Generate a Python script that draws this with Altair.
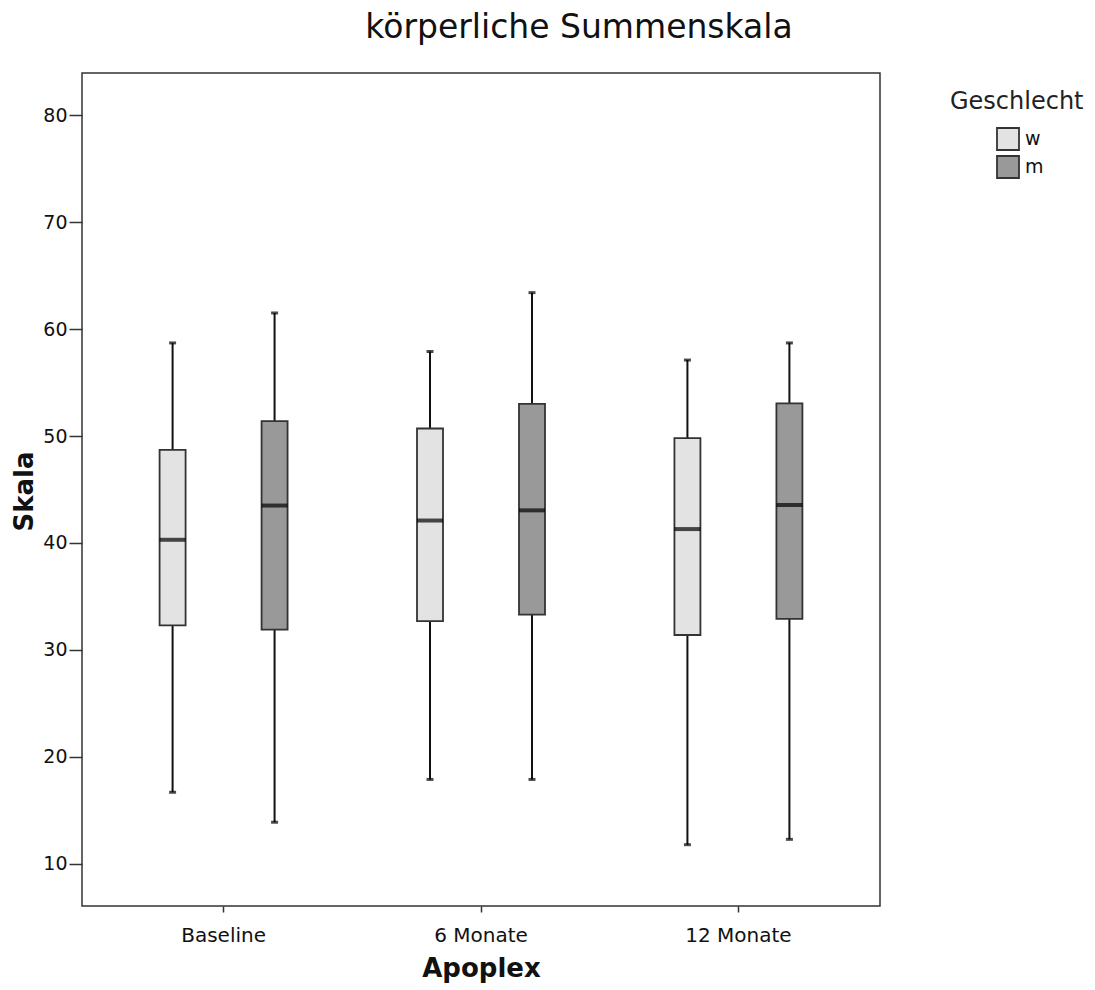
import altair as alt
import pandas as pd

categories = ["Baseline", "6 Monate", "12 Monate"]
sexes = ["w", "m"]

w_min = [16.7, 17.9, 11.8]
w_q1 = [32.3, 32.7, 31.4]
w_med = [40.3, 42.1, 41.3]
w_q3 = [48.7, 50.7, 49.8]
w_max = [58.7, 57.9, 57.1]

m_min = [13.9, 17.9, 12.3]
m_q1 = [31.9, 33.3, 32.9]
m_med = [43.5, 43.05, 43.55]
m_q3 = [51.4, 53.0, 53.05]
m_max = [61.5, 63.4, 58.7]

rows = []
for i, c in enumerate(categories):
    rows.append(dict(Apoplex=c, sex="w", lo=w_min[i], q1=w_q1[i], med=w_med[i], q3=w_q3[i], hi=w_max[i]))
    rows.append(dict(Apoplex=c, sex="m", lo=m_min[i], q1=m_q1[i], med=m_med[i], q3=m_q3[i], hi=m_max[i]))
df = pd.DataFrame(rows)

FONT = "DejaVu Sans"
W, H = 798, 833

x_enc = alt.X("Apoplex:N", sort=categories,
              scale=alt.Scale(paddingInner=0, paddingOuter=0.05),
              axis=alt.Axis(title="Apoplex", labelAngle=0, tickSize=6, labelPadding=13,
                            labelFontSize=20, labelFont=FONT, labelColor="#111",
                            titleFontSize=26, titleFont=FONT, titleFontWeight="bold",
                            titleColor="#111", titleX=W / 2, titleY=70,
                            titleBaseline="alphabetic", titleAlign="center",
                            domain=False, tickColor="#333", tickWidth=1.5))
xo_enc = alt.XOffset("sex:N", sort=sexes, scale=alt.Scale(paddingInner=0, paddingOuter=0.262))
y_scale = alt.Scale(domain=[6.07, 83.93], nice=False, zero=False)
y_axis = alt.Axis(title="Skala", values=[10, 20, 30, 40, 50, 60, 70, 80], tickSize=13,
                  labelPadding=2, labelFontSize=19, labelFont=FONT, labelColor="#111",
                  titleFontSize=26, titleFont=FONT, titleFontWeight="bold", titleColor="#111",
                  titleX=-58, titleY=418, titleBaseline="middle", titleAlign="center",
                  domain=False, grid=False, tickColor="#333", tickWidth=1.5)

color_scale = alt.Scale(domain=sexes, range=["#e3e3e3", "#999999"])

base = alt.Chart(df)

whisker = base.mark_rule(color="#111", strokeWidth=2).encode(
    x=x_enc, xOffset=xo_enc,
    y=alt.Y("lo:Q", scale=y_scale, axis=y_axis), y2="hi:Q")

box = base.mark_bar(size=26, stroke="#333", strokeWidth=1.8).encode(
    x=x_enc, xOffset=xo_enc,
    y=alt.Y("q1:Q", scale=y_scale), y2="q3:Q",
    color=alt.Color("sex:N", scale=color_scale, sort=sexes,
                    legend=alt.Legend(title=None, orient="none", legendX=914, legendY=54,
                                      symbolType="square", symbolSize=484,
                                      symbolStrokeColor="#333", symbolStrokeWidth=1.8,
                                      labelFontSize=19, labelFont=FONT, labelColor="#111",
                                      labelOffset=5, rowPadding=-2)))

median = base.mark_tick(color="#000", size=26, thickness=4).encode(
    x=x_enc, xOffset=xo_enc, y=alt.Y("med:Q", scale=y_scale))

cap_lo = base.mark_tick(color="#000", size=7, thickness=3).encode(
    x=x_enc, xOffset=xo_enc, y=alt.Y("lo:Q", scale=y_scale))
cap_hi = base.mark_tick(color="#000", size=7, thickness=3).encode(
    x=x_enc, xOffset=xo_enc, y=alt.Y("hi:Q", scale=y_scale))

legend_title = alt.Chart(pd.DataFrame({"t": ["Geschlecht"]})).mark_text(
    font=FONT, fontSize=24, color="#222", align="left", baseline="middle").encode(
    text="t:N", x=alt.value(868), y=alt.value(29))

title_text = alt.Chart(pd.DataFrame({"t": ["körperliche Summenskala"]})).mark_text(
    font=FONT, fontSize=33, color="#111", align="center", baseline="alphabetic").encode(
    text="t:N", x=alt.value(497), y=alt.value(-35))

chart = alt.layer(whisker, box, median, cap_lo, cap_hi, legend_title, title_text).properties(
    width=W, height=H,
    background="white",
    autosize=alt.AutoSizeParams(type="none"),
    padding={"left": 74, "top": 65, "right": 206, "bottom": 78},
).configure_view(stroke="#333", strokeWidth=1.5)

chart.save("out.html", embed_options={"renderer": "svg", "actions": False})
